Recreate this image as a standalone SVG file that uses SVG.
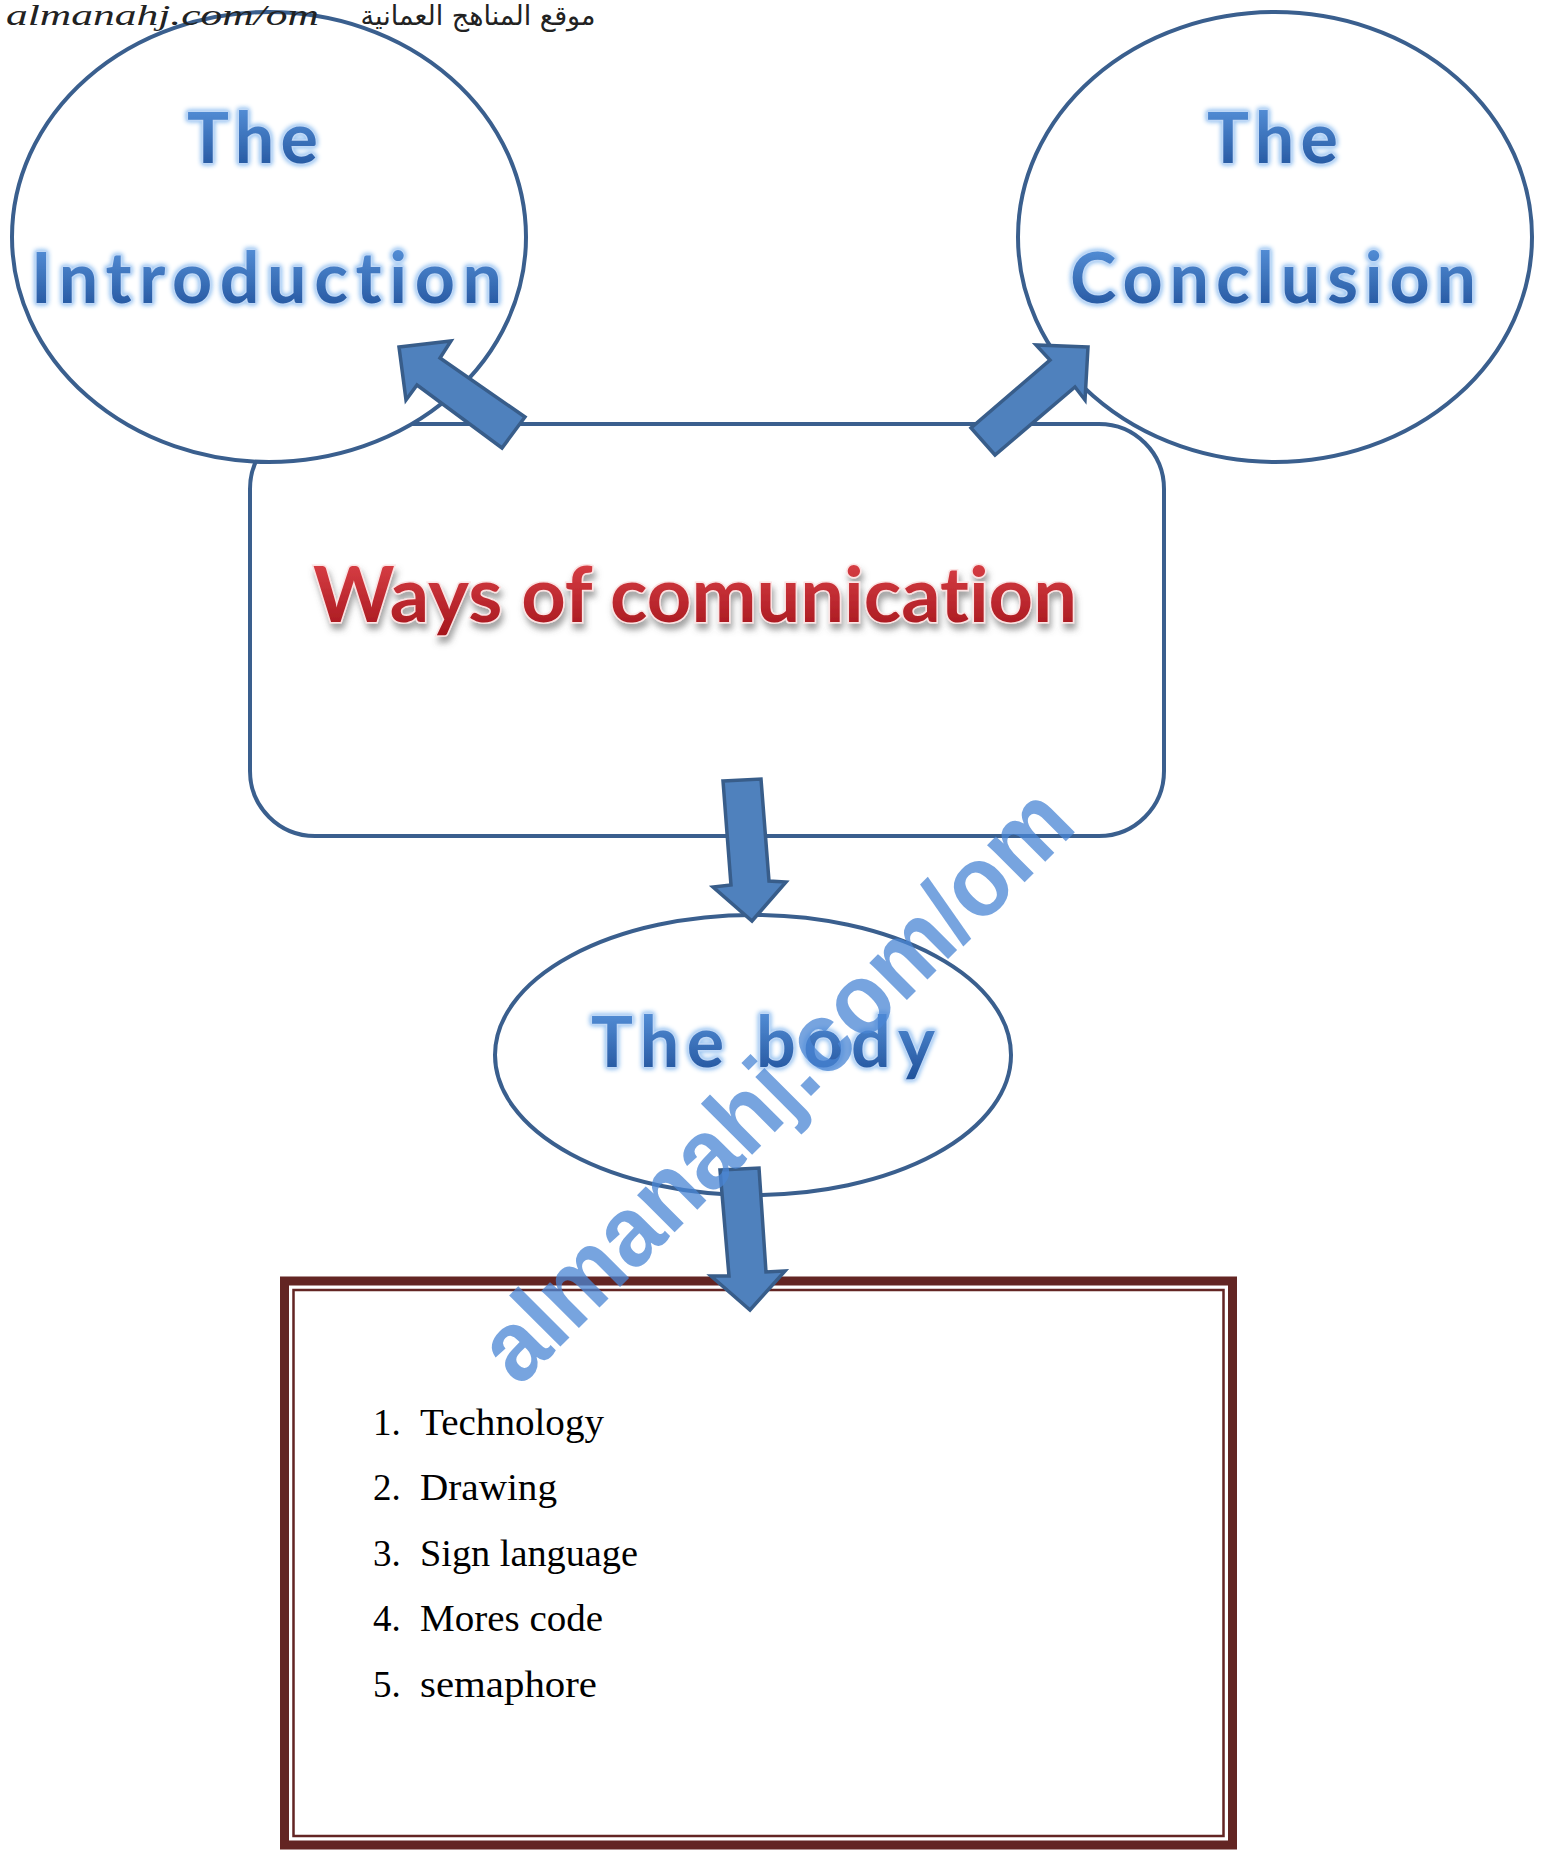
<svg xmlns="http://www.w3.org/2000/svg" width="1543" height="1854" viewBox="0 0 1543 1854">
<defs>
<linearGradient id="gBlue" x1="0" y1="0" x2="0" y2="1">
<stop offset="0" stop-color="#5E9AE2"/>
<stop offset="1" stop-color="#1E4F98"/>
</linearGradient>
<linearGradient id="gRed" x1="0" y1="0" x2="0" y2="1">
<stop offset="0" stop-color="#E2474D"/>
<stop offset="1" stop-color="#A3141B"/>
</linearGradient>
<filter id="shadow" x="-5%" y="-20%" width="110%" height="160%">
<feDropShadow dx="2" dy="6" stdDeviation="3" flood-color="#555" flood-opacity="0.55"/>
</filter>
<filter id="glow" x="-5%" y="-20%" width="110%" height="140%">
<feGaussianBlur in="SourceAlpha" stdDeviation="2.5" result="b"/>
<feFlood flood-color="#9CC6F2"/>
<feComposite in2="b" operator="in" result="g"/>
<feMerge><feMergeNode in="g"/><feMergeNode in="g"/><feMergeNode in="SourceGraphic"/></feMerge>
</filter>
</defs>
<style>
text{font-variant-ligatures:none}
.shape{fill:#fff;stroke:#3A5F8E;stroke-width:4}
.btxt{font-family:Lato,"Open Sans",sans-serif;font-weight:bold;font-size:70px;fill:url(#gBlue);stroke:#BFD8F6;stroke-width:3;paint-order:stroke;stroke-linejoin:round;filter:url(#glow)}
.arrow{fill:#4F81BD;stroke:#385D8A;stroke-width:3.5;stroke-linejoin:miter}
.list{font-family:"Liberation Serif","Times New Roman",serif;font-size:37px;fill:#000}
</style>
<rect width="1543" height="1854" fill="#fff"/>

<g id="center">
<rect class="shape" x="250" y="424" width="914" height="412" rx="65" ry="65"/>
<text x="313" y="622" font-family="Lato,'Open Sans',sans-serif" font-weight="bold" font-size="76" textLength="764" lengthAdjust="spacingAndGlyphs" fill="url(#gRed)" stroke="#FBE3E3" stroke-width="3" paint-order="stroke" filter="url(#shadow)">Ways of comunication</text>
</g>

<g id="introduction">
<ellipse class="shape" cx="269" cy="237" rx="257" ry="225"/>
<text class="btxt" x="187" y="163" textLength="131" lengthAdjust="spacing">The</text>
<text class="btxt" x="31" y="303" textLength="471" lengthAdjust="spacing">Introduction</text>
</g>

<g id="conclusion">
<ellipse class="shape" cx="1275" cy="237" rx="257" ry="225"/>
<text class="btxt" x="1207" y="163" textLength="131" lengthAdjust="spacing">The</text>
<text class="btxt" x="1070" y="303" textLength="406" lengthAdjust="spacing">Conclusion</text>
</g>

<g id="body">
<ellipse class="shape" cx="753" cy="1055" rx="258" ry="140"/>
<text class="btxt" x="591" y="1067" textLength="344" lengthAdjust="spacing">The body</text>
</g>

<g id="list">
<rect x="284.5" y="1281" width="948" height="564" fill="none" stroke="#632523" stroke-width="9"/>
<rect x="293.5" y="1290" width="930" height="546" fill="none" stroke="#632523" stroke-width="2.5"/>
<text class="list" x="373" y="1435">1.</text><text class="list" x="420" y="1435" textLength="184" lengthAdjust="spacingAndGlyphs">Technology</text>
<text class="list" x="373" y="1500">2.</text><text class="list" x="420" y="1500" textLength="137" lengthAdjust="spacingAndGlyphs">Drawing</text>
<text class="list" x="373" y="1566">3.</text><text class="list" x="420" y="1566" textLength="218" lengthAdjust="spacingAndGlyphs">Sign language</text>
<text class="list" x="373" y="1631">4.</text><text class="list" x="420" y="1631" textLength="183" lengthAdjust="spacingAndGlyphs">Mores code</text>
<text class="list" x="373" y="1697">5.</text><text class="list" x="420" y="1697" textLength="177" lengthAdjust="spacingAndGlyphs">semaphore</text>
</g>

<g id="connectors">
<polygon class="arrow" points="399,347 451,341 440,358 525,417 502,448 417,385 406,400"/>
<polygon class="arrow" points="1088,347 1036,345 1050,360 971,428 995,455 1075,387 1085,400"/>
<polygon class="arrow" points="723,781 761,779 769,881 786,882 752,921 713,887 731,885"/>
<polygon class="arrow" points="720,1170 759,1168 766,1272 785,1271 750,1310 711,1276 729,1276"/>
</g>

<g id="header">
<text x="319" y="25" font-family="Liberation Serif,serif" font-style="italic" font-size="29" fill="#222" text-anchor="end" textLength="313" lengthAdjust="spacingAndGlyphs">almanahj.com/om</text>
<text x="478" y="25" font-family="DejaVu Sans,sans-serif" font-size="27" fill="#222" text-anchor="middle">موقع المناهج العمانية</text>
</g>

<g id="watermark">
<text x="519" y="1388" transform="rotate(-45 519 1388)" font-family="Liberation Sans,Arial,sans-serif" font-weight="bold" font-size="100" fill="#4A86D4" fill-opacity="0.75" textLength="792" lengthAdjust="spacingAndGlyphs">almanahj.com/om</text>
</g>
</svg>
